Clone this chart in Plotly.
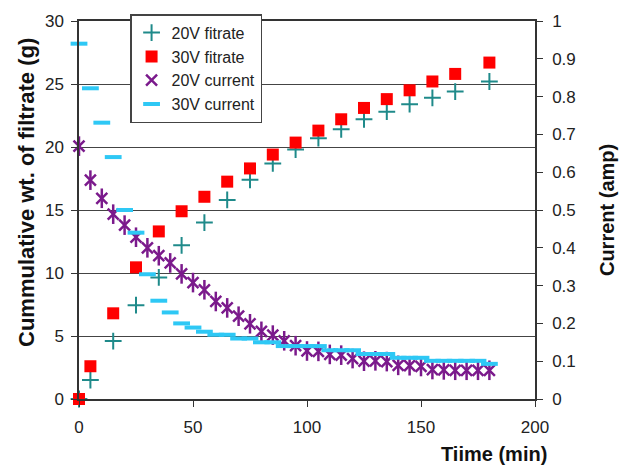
import plotly.graph_objects as go

# Filtration time (min)
t_filtrate = [0, 5, 15, 25, 35, 45, 55, 65, 75, 85, 95, 105, 115, 125, 135, 145, 155, 165, 180]
t_current = list(range(0, 185, 5))

# Cumulative weight of filtrate (g)
w_20v = [0, 1.5, 4.6, 7.45, 9.65, 12.2, 14.0, 15.8, 17.4, 18.7, 19.8, 20.7, 21.4, 22.2, 22.8, 23.4, 23.9, 24.4, 25.2]
w_30v = [0, 2.6, 6.8, 10.45, 13.3, 14.9, 16.05, 17.25, 18.3, 19.4, 20.35, 21.3, 22.2, 23.1, 23.8, 24.5, 25.2, 25.8, 26.7]

# Current (amp)
i_20v = [0.669, 0.579, 0.531, 0.489, 0.460, 0.428, 0.400, 0.379, 0.360, 0.331, 0.308,
         0.289, 0.258, 0.241, 0.219, 0.199, 0.179, 0.169, 0.154, 0.141, 0.127, 0.126,
         0.118, 0.116, 0.107, 0.100, 0.101, 0.099, 0.089, 0.088, 0.086, 0.078, 0.077,
         0.076, 0.076, 0.076, 0.076]
i_30v = [0.940, 0.822, 0.731, 0.640, 0.500, 0.440, 0.330, 0.260, 0.229, 0.200, 0.189,
         0.178, 0.170, 0.170, 0.160, 0.160, 0.150, 0.150, 0.140, 0.140, 0.140, 0.140,
         0.129, 0.129, 0.129, 0.119, 0.119, 0.119, 0.109, 0.109, 0.109, 0.101, 0.101,
         0.101, 0.101, 0.101, 0.093]

TEAL = "#1f8a8a"
RED = "#ff0000"
PURPLE = "#7b1a8c"
CYAN = "#2ec8f5"
FONT = "Liberation Sans, Arial, sans-serif"

fig = go.Figure()

fig.add_trace(go.Scatter(
    x=t_filtrate, y=w_20v, mode="markers", name="20V fitrate", cliponaxis=False,
    marker=dict(symbol="cross-thin-open", size=12, color=TEAL, line=dict(color=TEAL, width=2)),
))
fig.add_trace(go.Scatter(
    x=t_filtrate, y=w_30v, mode="markers", name="30V fitrate", cliponaxis=False,
    marker=dict(symbol="square", size=12, color=RED, line=dict(width=0)),
))
# 20V current: star marker built from an X plus a vertical stroke
fig.add_trace(go.Scatter(
    x=t_current, y=i_20v, mode="markers", name="20V current", yaxis="y2",
    legendgroup="i20", cliponaxis=False,
    marker=dict(symbol="x-thin-open", size=11, color=PURPLE, line=dict(color=PURPLE, width=2.5)),
))
fig.add_trace(go.Scatter(
    x=t_current, y=i_20v, mode="markers", name="20V current", yaxis="y2",
    legendgroup="i20", showlegend=False, cliponaxis=False, hoverinfo="skip",
    marker=dict(symbol="line-ns-open", size=14, color=PURPLE, line=dict(color=PURPLE, width=2.5)),
))
fig.add_trace(go.Scatter(
    x=t_current, y=i_30v, mode="markers", name="30V current", yaxis="y2", cliponaxis=False,
    marker=dict(symbol="line-ew-open", size=12, color=CYAN, line=dict(color=CYAN, width=4)),
))

axis_common = dict(
    showline=True, linecolor="#333333", linewidth=1.5,
    tickfont=dict(family=FONT, size=17, color="#222222"),
    ticks="outside", tickcolor="#333333", ticklen=6,
)

fig.update_layout(
    width=623, height=468,
    margin=dict(l=79, r=88, t=16, b=69),
    paper_bgcolor="white", plot_bgcolor="white",
    font=dict(family=FONT, color="#222222"),
    showlegend=True,
    legend=dict(
        x=0.112, y=1.018, xanchor="left", yanchor="top",
        bgcolor="white", bordercolor="#444444", borderwidth=1.5,
        font=dict(family=FONT, size=16, color="#222222"),
        itemwidth=30, tracegroupgap=0,
    ),
    xaxis=dict(
        range=[0, 200], tickvals=[0, 50, 100, 150, 200], showgrid=False, zeroline=False,
        mirror=True, ticklabelstandoff=6, **axis_common,
    ),
    yaxis=dict(
        range=[0, 30], tickvals=[0, 5, 10, 15, 20, 25, 30], showgrid=True,
        gridcolor="#444444", gridwidth=1, zeroline=False, ticklabelstandoff=4, **axis_common,
    ),
    yaxis2=dict(
        range=[0, 1], tickvals=[0, 0.1, 0.2, 0.3, 0.4, 0.5, 0.6, 0.7, 0.8, 0.9, 1],
        ticktext=["0", "0.1", "0.2", "0.3", "0.4", "0.5", "0.6", "0.7", "0.8", "0.9", "1"],
        overlaying="y", side="right", showgrid=False, zeroline=False,
        ticklabelstandoff=6, **axis_common,
    ),
    annotations=[
        dict(text="<b>Cummulative wt. of filtrate (g)</b>", xref="paper", yref="paper",
             x=-0.114, y=0.545, xanchor="center", yanchor="middle", textangle=-90,
             showarrow=False, font=dict(family=FONT, size=22, color="#111111")),
        dict(text="<b>Current (amp)</b>", xref="paper", yref="paper",
             x=1.158, y=0.5, xanchor="center", yanchor="middle", textangle=-90,
             showarrow=False, font=dict(family=FONT, size=20, color="#111111")),
        dict(text="<b>Tiime (min)</b>", xref="paper", yref="paper",
             x=1.03, y=-0.145, xanchor="right", yanchor="middle",
             showarrow=False, font=dict(family=FONT, size=20, color="#111111")),
    ],
)

fig.write_html("out.html")
